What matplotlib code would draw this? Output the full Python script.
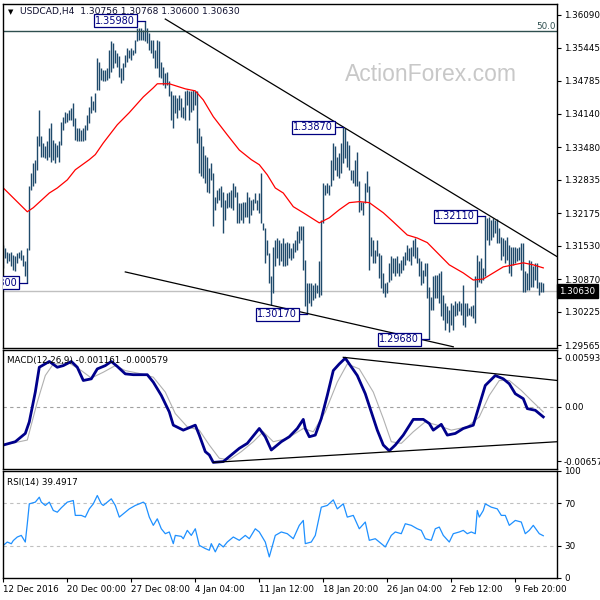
import matplotlib
matplotlib.use("Agg")
import matplotlib.pyplot as plt
import matplotlib.transforms as mtransforms

plt.rcParams['font.family'] = ['DejaVu Sans']
plt.rcParams['font.size'] = 6.3

# ---- price bars (H4) ----
highs = [
    1.3155, 1.3148, 1.3141, 1.3138, 1.3141, 1.3135, 1.3132, 1.3138, 1.3141, 1.3145,
    1.3135, 1.3122, 1.3148, 1.3270, 1.3296, 1.3316, 1.3323, 1.3369, 1.3422, 1.3369,
    1.3356, 1.3349, 1.3359, 1.3385, 1.3395, 1.3362, 1.3356, 1.3352, 1.3359, 1.3398,
    1.3408, 1.3418, 1.3415, 1.3422, 1.3425, 1.3435, 1.3405, 1.3385, 1.3385, 1.3382,
    1.3385, 1.3392, 1.3412, 1.3428, 1.3448, 1.3438,
    1.3454, 1.3524, 1.3517, 1.3504, 1.3501, 1.3501, 1.3504, 1.3540, 1.3557, 1.3553,
    1.3540, 1.3534, 1.3527, 1.3504, 1.3514, 1.3530, 1.3543, 1.3540, 1.3543, 1.3540,
    1.3560, 1.3583, 1.3583, 1.3583, 1.3580, 1.3598, 1.3583, 1.3573, 1.3560, 1.3560,
    1.3540, 1.3560, 1.3557, 1.3517, 1.3507, 1.3494, 1.3497, 1.3478, 1.3458, 1.3451,
    1.3451, 1.3445, 1.3451, 1.3445, 1.3428,
    1.3458, 1.3461, 1.3458, 1.3458, 1.3461, 1.3458, 1.3458, 1.3385, 1.3369, 1.3349,
    1.3333, 1.3329, 1.3306, 1.3316, 1.3296, 1.3250, 1.3263, 1.3267, 1.3270, 1.3260,
    1.3243, 1.3257, 1.3260, 1.3263, 1.3276, 1.3270, 1.3260, 1.3237, 1.3237, 1.3240,
    1.3240, 1.3260, 1.3250, 1.3243, 1.3246, 1.3257, 1.3243, 1.3257, 1.3296, 1.3197,
    1.3187, 1.3165, 1.3138, 1.3092, 1.3151,
    1.3165, 1.3168, 1.3165, 1.3158, 1.3168, 1.3158, 1.3161, 1.3158, 1.3148, 1.3158,
    1.3165, 1.3181, 1.3191, 1.3191, 1.3191, 1.3125, 1.3079, 1.3079, 1.3079, 1.3076,
    1.3079, 1.3076, 1.3122, 1.3204, 1.3276, 1.3273, 1.3276, 1.3273, 1.3323, 1.3356,
    1.3349, 1.3329, 1.3336, 1.3356, 1.3387, 1.3385, 1.3359, 1.3352, 1.3303, 1.3303,
    1.3323, 1.3339, 1.3280, 1.3240, 1.3240,
    1.3276, 1.3300, 1.3270, 1.3171, 1.3165, 1.3145, 1.3165, 1.3138, 1.3135, 1.3099,
    1.3079, 1.3082, 1.3118, 1.3132, 1.3128, 1.3128, 1.3132, 1.3118, 1.3125, 1.3132,
    1.3141, 1.3155, 1.3148, 1.3151, 1.3165, 1.3168, 1.3151, 1.3128, 1.3122, 1.3105,
    1.3118, 1.3118, 1.3072, 1.3052, 1.3092, 1.3095, 1.3095, 1.3099, 1.3102, 1.3056,
    1.3039, 1.3033, 1.3026, 1.3039, 1.3036,
    1.3043, 1.3039, 1.3043, 1.3039, 1.3076, 1.3039, 1.3039, 1.3029, 1.3033, 1.3036,
    1.3092, 1.3135, 1.3122, 1.3128, 1.3108, 1.3211, 1.3207, 1.3210, 1.3204, 1.3207,
    1.3204, 1.3205, 1.3187, 1.3171, 1.3168, 1.3165, 1.3171, 1.3155, 1.3151, 1.3151,
    1.3151, 1.3148, 1.3151, 1.3158, 1.3158, 1.3102, 1.3099, 1.3125, 1.3122, 1.3112,
    1.3118, 1.3118, 1.3082, 1.3082, 1.3079,
]
lows = [
    1.3108, 1.3128, 1.3118, 1.3122, 1.3112, 1.3105, 1.3102, 1.3118, 1.3128, 1.3125,
    1.3112, 1.3092, 1.3080, 1.3145, 1.3263, 1.3270, 1.3276, 1.3303, 1.3349, 1.3329,
    1.3329, 1.3326, 1.3323, 1.3329, 1.3319, 1.3323, 1.3316, 1.3329, 1.3319, 1.3352,
    1.3382, 1.3395, 1.3398, 1.3402, 1.3402, 1.3389, 1.3362, 1.3359, 1.3359, 1.3359,
    1.3359, 1.3362, 1.3382, 1.3395, 1.3415, 1.3422,
    1.3418, 1.3461, 1.3461, 1.3481, 1.3478, 1.3478, 1.3481, 1.3484, 1.3497, 1.3504,
    1.3514, 1.3507, 1.3487, 1.3474, 1.3481, 1.3507, 1.3517, 1.3524, 1.3520, 1.3530,
    1.3534, 1.3557, 1.3560, 1.3560, 1.3560, 1.3557, 1.3553, 1.3540, 1.3534, 1.3524,
    1.3504, 1.3504, 1.3487, 1.3484, 1.3471, 1.3464, 1.3471, 1.3448, 1.3402, 1.3385,
    1.3415, 1.3405, 1.3422, 1.3408, 1.3405,
    1.3402, 1.3431, 1.3402, 1.3418, 1.3422, 1.3431, 1.3356, 1.3296, 1.3290, 1.3286,
    1.3276, 1.3260, 1.3257, 1.3283, 1.3191, 1.3224, 1.3237, 1.3243, 1.3230, 1.3178,
    1.3204, 1.3227, 1.3230, 1.3227, 1.3224, 1.3250, 1.3197, 1.3197, 1.3204, 1.3197,
    1.3210, 1.3210, 1.3197, 1.3214, 1.3224, 1.3237, 1.3224, 1.3217, 1.3197, 1.3184,
    1.3118, 1.3135, 1.3079, 1.3036, 1.3059,
    1.3112, 1.3128, 1.3115, 1.3122, 1.3112, 1.3112, 1.3115, 1.3128, 1.3125, 1.3128,
    1.3141, 1.3145, 1.3158, 1.3165, 1.3105, 1.3033, 1.3017, 1.3039, 1.3033, 1.3046,
    1.3049, 1.3059, 1.3052, 1.3056, 1.3197, 1.3253, 1.3257, 1.3253, 1.3270, 1.3283,
    1.3303, 1.3290, 1.3286, 1.3296, 1.3316, 1.3326, 1.3309, 1.3303, 1.3283, 1.3276,
    1.3270, 1.3270, 1.3220, 1.3224, 1.3214,
    1.3237, 1.3260, 1.3105, 1.3132, 1.3118, 1.3118, 1.3132, 1.3089, 1.3069, 1.3059,
    1.3052, 1.3059, 1.3082, 1.3085, 1.3099, 1.3092, 1.3099, 1.3092, 1.3099, 1.3105,
    1.3115, 1.3125, 1.3122, 1.3115, 1.3132, 1.3128, 1.3118, 1.3092, 1.3076, 1.3079,
    1.3092, 1.3049, 1.2968, 1.3026, 1.3026, 1.3049, 1.3049, 1.3039, 1.3013, 1.3006,
    1.2986, 1.3000, 1.2983, 1.2996, 1.2986,
    1.3013, 1.3016, 1.3023, 1.3016, 1.2996, 1.2993, 1.3013, 1.3016, 1.3013, 1.3010,
    1.3000, 1.3072, 1.3082, 1.3079, 1.3085, 1.3092, 1.3165, 1.3155, 1.3165, 1.3171,
    1.3178, 1.3158, 1.3158, 1.3125, 1.3132, 1.3118, 1.3125, 1.3099, 1.3092, 1.3115,
    1.3118, 1.3122, 1.3125, 1.3105, 1.3062, 1.3062, 1.3066, 1.3066, 1.3072, 1.3072,
    1.3085, 1.3069, 1.3056, 1.3062, 1.3062,
]
bar_idx = list(range(len(highs)))
last_close = 1.30630
title_text = "USDCAD,H4  1.30756 1.30768 1.30600 1.30630"

# moving average (red)
ma_idx = [0, 12, 15, 23, 27, 32, 36, 43, 46, 50, 57, 63, 70, 75, 77, 83, 91, 96, 100,
          105, 112, 118, 124, 128, 132, 136, 140, 145, 150, 158, 163, 168, 173, 178,
          183, 190, 195, 202, 207, 212, 218, 223, 230, 235, 240, 245, 250, 255, 260,
          265, 270]
ma_val = [1.3267, 1.3220, 1.3228, 1.3257, 1.3267, 1.3283, 1.3303, 1.3323, 1.3333,
          1.3356, 1.3392, 1.3416, 1.3447, 1.3465, 1.3473, 1.3473, 1.3463, 1.3459,
          1.3441, 1.3408, 1.3372, 1.3342, 1.3323, 1.3313, 1.3293, 1.3267, 1.3257,
          1.3230, 1.3218, 1.3198, 1.3208, 1.3224, 1.3238, 1.3240, 1.3238, 1.3218,
          1.3200, 1.3174, 1.3168, 1.3159, 1.3135, 1.3115, 1.3099, 1.3085, 1.3087,
          1.3099, 1.3111, 1.3115, 1.3119, 1.3115, 1.3109]

# MACD(12,26,9)
macd_idx = [0, 6, 11, 13, 16, 18, 23, 27, 30, 34, 37, 40, 44, 47, 51, 54, 57, 61, 65,
            72, 75, 79, 83, 85, 90, 94, 96, 98, 101, 103, 105, 110, 114, 118, 122, 126,
            128, 131, 134, 139, 143, 147, 150, 151, 153, 156, 159, 162, 165, 168, 171,
            173, 177, 181, 184, 187, 190, 193, 196, 200, 205, 210, 213, 215, 219, 222,
            226, 230, 235, 238, 241, 246, 250, 253, 256, 260, 262, 266, 270]
macd_val = [-0.0046, -0.0042, -0.0032, -0.0018, 0.0018, 0.0048, 0.0055, 0.0048, 0.0050,
            0.0055, 0.0048, 0.0032, 0.0034, 0.0046, 0.0050, 0.0055, 0.0049, 0.0040,
            0.0039, 0.0039, 0.0030, 0.0014, -0.0006, -0.0022, -0.0028, -0.0024, -0.0022,
            -0.0034, -0.0054, -0.0058, -0.0067, -0.0066, -0.0058, -0.0050, -0.0044,
            -0.0032, -0.0026, -0.0036, -0.0052, -0.0042, -0.0036, -0.0026, -0.0015,
            -0.0026, -0.0036, -0.0034, -0.0014, 0.0014, 0.0044, 0.0052, 0.0059, 0.0052,
            0.0038, 0.0016, -0.0006, -0.0028, -0.0046, -0.0053, -0.0046, -0.0034,
            -0.0015, -0.0015, -0.0020, -0.0028, -0.0021, -0.0034, -0.0032, -0.0026,
            -0.0022, 0.0002, 0.0026, 0.0038, 0.0034, 0.0028, 0.0016, 0.0010, -0.0002,
            -0.0004, -0.0012]
signal_idx = [0, 12, 17, 21, 25, 33, 39, 44, 50, 56, 61, 69, 75, 81, 86, 92, 98, 103,
              108, 113, 119, 125, 130, 135, 142, 150, 155, 161, 167, 172, 178, 185, 190,
              194, 199, 205, 211, 217, 224, 232, 238, 243, 248, 253, 259, 264, 270]
signal_val = [-0.0046, -0.0040, 0.0006, 0.0038, 0.0052, 0.0053, 0.0044, 0.0035, 0.0042,
              0.0050, 0.0044, 0.0040, 0.0036, 0.0018, -0.0008, -0.0024, -0.0028, -0.0046,
              -0.0062, -0.0064, -0.0054, -0.0042, -0.0030, -0.0042, -0.0038, -0.0026,
              -0.0030, -0.0006, 0.0030, 0.0052, 0.0046, 0.0018, -0.0014, -0.0042,
              -0.0044, -0.0030, -0.0018, -0.0022, -0.0028, -0.0024, -0.0012, 0.0014,
              0.0032, 0.0032, 0.0020, 0.0008, -0.0006]

# RSI(14)
rsi_idx = [0, 2, 4, 5, 7, 9, 11, 12, 13, 16, 18, 19, 21, 23, 25, 27, 29, 32, 35, 36, 39,
           41, 43, 45, 47, 49, 50, 52, 54, 56, 58, 61, 63, 66, 68, 70, 71, 73, 75, 77,
           79, 81, 83, 85, 86, 89, 90, 92, 94, 96, 98, 101, 103, 104, 106, 108, 110,
           112, 115, 118, 121, 123, 126, 128, 131, 133, 136, 139, 142, 145, 148, 150,
           151, 154, 156, 159, 162, 165, 167, 170, 172, 175, 178, 181, 183, 186, 189,
           191, 194, 196, 199, 201, 204, 207, 209, 211, 214, 216, 218, 220, 223, 225,
           228, 230, 232, 234, 236, 237, 238, 240, 241, 244, 247, 249, 251, 253, 256,
           259, 261, 263, 265, 268, 270]
rsi_val = [30.5, 33.6, 32.0, 35.0, 38.3, 39.8, 33.6, 50.7, 69.3, 70.9, 75.5, 70.9, 67.8,
           70.9, 63.1, 61.5, 65.6, 70.9, 72.4, 58.5, 58.5, 56.9, 64.6, 69.3, 77.1, 69.3,
           67.8, 70.9, 74.0, 67.8, 56.9, 61.5, 64.6, 67.8, 69.3, 70.9, 69.3, 56.9, 49.2,
           55.3, 46.0, 41.4, 43.0, 32.1, 39.8, 38.9, 36.7, 44.5, 39.8, 46.0, 30.5, 27.5,
           25.9, 32.1, 24.4, 32.1, 29.0, 33.6, 38.3, 35.2, 39.8, 36.7, 46.0, 43.0, 33.6,
           19.7, 39.8, 43.0, 41.4, 36.7, 49.2, 53.8, 32.1, 33.6, 39.8, 66.2, 67.8, 73.0,
           64.6, 69.3, 56.9, 58.5, 46.0, 52.3, 35.2, 36.7, 32.1, 29.0, 39.8, 43.0, 41.4,
           50.7, 49.2, 46.0, 44.5, 36.7, 35.2, 46.0, 47.6, 39.8, 33.6, 41.4, 43.0, 44.5,
           41.4, 43.0, 41.4, 63.1, 56.9, 63.1, 69.3, 66.2, 64.6, 58.5, 58.5, 49.2, 53.8,
           52.3, 41.4, 44.5, 49.2, 41.4, 39.49]

price_ticks = [1.36090, 1.35445, 1.34785, 1.34140, 1.33480, 1.32835, 1.32175,
               1.31530, 1.30870, 1.30225, 1.29565]
macd_ticks = [0.00593, 0.0, -0.006575]
macd_tick_labels = ["0.00593", "0.00", "-0.006575"]
rsi_ticks = [100, 70, 30, 0]
date_idx = [0, 32, 64, 96, 128, 160, 192, 224, 256]
date_labels = ["12 Dec 2016", "20 Dec 00:00", "27 Dec 08:00", "4 Jan 04:00",
               "11 Jan 12:00", "18 Jan 20:00", "26 Jan 04:00", "2 Feb 12:00",
               "9 Feb 20:00"]

# swing high/low labels: bar index, price
swing_idx = [12, 71, 152, 170, 213, 241]
swing_price = [1.30800, 1.35980, 1.30170, 1.33870, 1.29680, 1.32110]

fib_level = 1.3578
upper_trend = ([81, 277], [1.3601, 1.3131])
lower_trend = ([61, 225], [1.3101, 1.2953])
macd_upper_trend = ([170, 277], [0.0060, 0.0032])
macd_lower_trend = ([105, 277], [-0.0067, -0.0042])

bar_color = '#1f4a6b'
navy = '#000080'
xlim = (-0.15, 276.85)

fig = plt.figure(figsize=(6, 6), dpi=100)
ax1 = fig.add_axes([0.005, 0.42, 0.9233, 0.5733])
ax2 = fig.add_axes([0.005, 0.2183, 0.9233, 0.1983])
ax3 = fig.add_axes([0.005, 0.0367, 0.9233, 0.1783])

for ax in (ax1, ax2, ax3):
    ax.set_xlim(*xlim)
    ax.yaxis.tick_right()
    ax.tick_params(axis='y', direction='out', length=3, width=0.8, pad=2, labelsize=6.3)
    for sp in ax.spines.values():
        sp.set_color('black')
        sp.set_linewidth(1)

# ---- main price panel ----
ax1.set_ylim(1.29506, 1.36307)
ax1.vlines(bar_idx, lows, highs, color=bar_color, lw=1.0)
ax1.plot(ma_idx, ma_val, color='red', lw=0.9)
ax1.axhline(last_close, color='#c0c0c0', lw=1, zorder=0)
ax1.axhline(fib_level, color='#2f4f4f', lw=1)
ax1.text(276.3, fib_level, "50.0", ha='right', va='bottom', color='#2f4f4f', fontsize=6.3)
ax1.plot(*upper_trend, color='black', lw=0.9)
ax1.plot(*lower_trend, color='black', lw=0.9)
ax1.set_xticks([])
ax1.set_yticks(price_ticks)
ax1.set_yticklabels([f"{v:.5f}" for v in price_ticks])

for i, p in zip(swing_idx, swing_price):
    ax1.plot([i - 5, i], [p, p], color=navy, lw=0.9)
    ax1.text(i - 5, p, f"{p:.5f}", ha='right', va='center', color=navy, fontsize=7,
             clip_on=True,
             bbox=dict(boxstyle='square,pad=0.15', fc='white', ec=navy, lw=0.9))

trans = mtransforms.blended_transform_factory(ax1.transAxes, ax1.transData)
ax1.text(1.004, last_close, f"{last_close:.5f}", transform=trans, ha='left', va='center',
         color='white', fontsize=6.3, clip_on=False,
         bbox=dict(boxstyle='square,pad=0.25', fc='black', ec='black'))

ax1.text(0.009, 0.985, "\u25bc", transform=ax1.transAxes, ha='left', va='top',
         fontsize=5, color='black')
ax1.text(0.03, 0.99, title_text, transform=ax1.transAxes, ha='left', va='top',
         fontsize=6.6, color='#101030')
ax1.text(214, 1.3491, "ActionForex.com", ha='center', va='center', fontsize=16.5,
         color='#c8c8c8', family='Liberation Sans', zorder=0)

# ---- MACD panel ----
ax2.set_ylim(-0.00750, 0.00688)
ax2.axhline(0, color='#a0a0a0', lw=0.8, ls=(0, (3, 3)))
ax2.plot(signal_idx, signal_val, color='#b0b0b0', lw=0.8)
ax2.plot(macd_idx, macd_val, color='#00008b', lw=2.0)
ax2.plot(*macd_upper_trend, color='black', lw=0.9)
ax2.plot(*macd_lower_trend, color='black', lw=0.9)
ax2.set_xticks([])
ax2.set_yticks(macd_ticks)
ax2.set_yticklabels(macd_tick_labels)
ax2.text(0.008, 0.95, "MACD(12,26,9) -0.001161 -0.000579", transform=ax2.transAxes,
         ha='left', va='top', fontsize=6.3)

# ---- RSI panel ----
ax3.set_ylim(0, 100)
ax3.axhline(70, color='#c0c0c0', lw=0.8, ls=(0, (3, 3)))
ax3.axhline(30, color='#c0c0c0', lw=0.8, ls=(0, (3, 3)))
ax3.plot(rsi_idx, rsi_val, color='#1e90ff', lw=0.9)
ax3.set_yticks(rsi_ticks)
ax3.set_yticklabels([str(v) for v in rsi_ticks])
ax3.set_xticks(date_idx)
ax3.set_xticklabels(date_labels, ha='left')
ax3.tick_params(axis='x', direction='out', length=3, width=0.8, pad=2, labelsize=6.3)
ax3.text(0.008, 0.93, "RSI(14) 39.4917", transform=ax3.transAxes, ha='left', va='top',
         fontsize=6.3)

fig.savefig("out.png", dpi=100, facecolor='white')
